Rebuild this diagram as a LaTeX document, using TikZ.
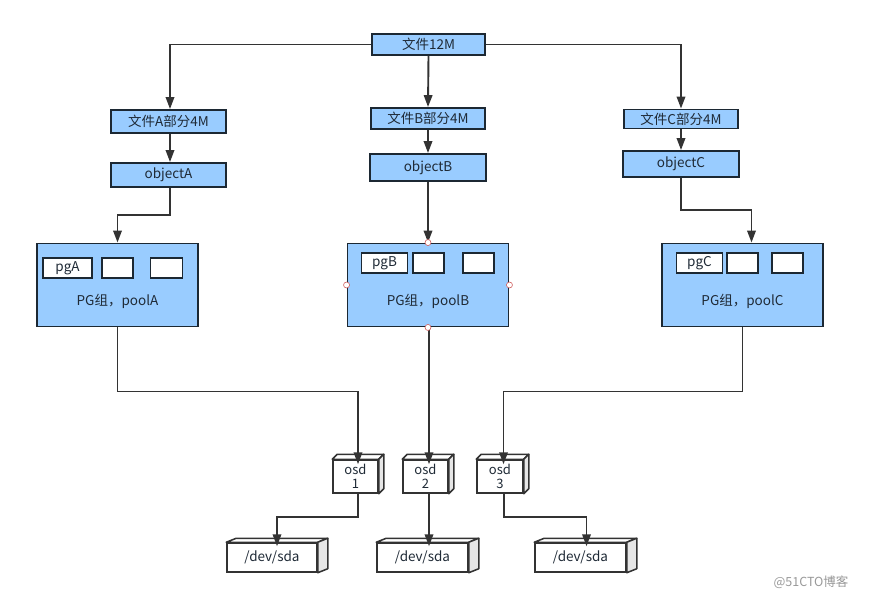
\documentclass[tikz,border=0pt]{standalone}
\usepackage{fontspec}
\setmainfont{Noto Sans CJK SC}
\usetikzlibrary{arrows.meta,calc}
\definecolor{boxfill}{HTML}{99CCFF}
\definecolor{boxline}{HTML}{1C2833}
\definecolor{linec}{HTML}{333333}
\definecolor{txtc}{HTML}{1F2A36}
\definecolor{depthc}{HTML}{E6E6E6}
\definecolor{markc}{HTML}{D06060}
\newcommand\cubefaces[3]{%
  \draw[cubeface,fill=white] (#1.north west) -- ++(#2,-#3) -- ([shift={(#2,-#3)}]#1.north east) -- (#1.north east) -- cycle;
  \draw[cubeface,fill=depthc] (#1.north east) -- ++(#2,-#3) -- ([shift={(#2,-#3)}]#1.south east) -- (#1.south east) -- cycle;}
\begin{document}
\begin{tikzpicture}[x=1pt,y=-1pt,
  every node/.style={font=\fontsize{13.5}{15}\selectfont, text=txtc},
  bluebox/.style={draw=boxline, fill=boxfill, line width=1.9pt, inner sep=0pt},
  pgbox/.style={bluebox, minimum width=161pt, minimum height=83pt},
  subbox/.style={draw=boxline, fill=white, line width=1.6pt, inner sep=0pt, minimum height=20pt},
  cubebox/.style={draw=linec, fill=white, line width=1.5pt, inner sep=0pt, align=center},
  osdbox/.style={cubebox, font=\fontsize{13}{14}\selectfont, minimum height=33pt},
  cubeface/.style={draw=linec, line width=1.5pt, line join=round},
  arr/.style={draw=linec, line width=1.9pt, -{Triangle[length=12pt,width=8.5pt]}},
  marker/.style={circle, draw=markc, fill=white, line width=0.6pt, inner sep=0pt, minimum size=6pt}]
\useasboundingbox (0,0) rectangle (871,599);
\fill[white] (0,0) rectangle (871,599);

% top
\node[bluebox, minimum width=113pt, minimum height=21pt] (top) at (428.5,44.5) {文件12M};
\node[bluebox, minimum width=115pt, minimum height=23pt] (pa) at (168.5,121.5) {文件A部分4M};
\node[bluebox, minimum width=114pt, minimum height=21pt] (pb) at (428,118.5) {文件B部分4M};
\node[bluebox, minimum width=114pt, minimum height=19pt] (pc) at (681,119) {文件C部分4M};
\node[bluebox, minimum width=115pt, minimum height=24pt] (oa) at (168.5,175) {objectA};
\node[bluebox, minimum width=116pt, minimum height=27pt] (ob) at (428,167.5) {objectB};
\node[bluebox, minimum width=116pt, minimum height=26pt] (oc) at (681,164) {objectC};

% PG groups
\node[pgbox] (pga) at (117.5,285) {};
\node[pgbox] (pgb) at (428,285) {};
\node[pgbox] (pgc) at (742.5,285) {};
\node (pgat) at (117.5,301) {PG组，poolA};
\node (pgbt) at (428,301) {PG组，poolB};
\node (pgct) at (742.5,301) {PG组，poolC};

\node[subbox, minimum width=49pt] (a1) at (67.5,268) {pgA};
\node[subbox, minimum width=31pt] (a2) at (117.5,268) {};
\node[subbox, minimum width=32pt] (a3) at (166.5,268) {};
\node[subbox, minimum width=46pt] (b1) at (384.5,263) {pgB};
\node[subbox, minimum width=31pt, line width=2pt] (b2) at (428.5,263) {};
\node[subbox, minimum width=31pt] (b3) at (478.5,263) {};
\node[subbox, minimum width=46pt] (c1) at (699.5,263) {pgC};
\node[subbox, minimum width=31pt] (c2) at (742.5,263) {};
\node[subbox, minimum width=31pt] (c3) at (787.5,263) {};

% osd cubes
\node[osdbox, minimum width=45pt] (osd1) at (355.5,476.5) {osd\\1};
\node[osdbox, minimum width=45pt] (osd2) at (425.5,476.5) {osd\\2};
\node[osdbox, minimum width=46pt] (osd3) at (500,476.5) {osd\\3};
\cubefaces{osd1}{5}{5}
\cubefaces{osd2}{5}{5}
\cubefaces{osd3}{5}{5}

% disks
\node[cubebox, minimum width=90pt, minimum height=29pt] (sda1) at (272,557.5) {/dev/sda};
\node[cubebox, minimum width=91pt, minimum height=29pt] (sda2) at (422.5,557.5) {/dev/sda};
\node[cubebox, minimum width=91pt, minimum height=29pt] (sda3) at (580.5,557.5) {/dev/sda};
\cubefaces{sda1}{10}{4}
\cubefaces{sda2}{10}{4}
\cubefaces{sda3}{10}{4}

% connectors top level
\draw[arr] (top.west) -| ([xshift=1.5pt]pa.north);
\draw[arr] (top.south) -- (pb.north);
\draw[arr] (top.east) -| (pc.north);
\draw[arr] ([xshift=1.5pt]pa.south) -- ([xshift=1.5pt]oa.north);
\draw[arr] (pb.south) -- (ob.north);
\draw[arr] (pc.south) -- (oc.north);

% object -> pg
\coordinate (ja) at ($(oa.south)+(1.5,27)$);
\draw[arr] ([xshift=1.5pt]oa.south) -- (ja) -| (pga.north);
\draw[arr] (ob.south) -- (pgb.north);
\coordinate (jc) at ($(oc.south)+(0,32.5)$);
\draw[arr] (oc.south) -- (jc) -| ([xshift=9pt]pgc.north);

% pg -> osd
\coordinate (jpa) at ($(pga.south)+(0,64)$);
\draw[arr] (pga.south) -- (jpa) -| ([xshift=2.5pt,yshift=-5pt]osd1.north);
\draw[arr] ([xshift=1pt]pgb.south) -- ([xshift=3.5pt,yshift=-5pt]osd2.north);
\coordinate (jpc) at ($(pgc.south)+(0,64)$);
\draw[arr] (pgc.south) -- (jpc) -| ([xshift=3.5pt,yshift=-5pt]osd3.north);

% osd -> disk
\coordinate (jo1) at ($(osd1.south)+(2.5,23)$);
\draw[arr] ([xshift=2.5pt]osd1.south) -- (jo1) -| ([xshift=5pt,yshift=-4pt]sda1.north);
\draw[arr] ([xshift=3.5pt]osd2.south) -- ([xshift=6.5pt,yshift=-4pt]sda2.north);
\coordinate (jo3) at ($(osd3.south)+(4,23)$);
\draw[arr] ([xshift=4pt]osd3.south) -- (jo3) -| ([xshift=6pt,yshift=-4pt]sda3.north);

% selection markers on pgB
\node[marker] (m1) at (pgb.north) {};
\node[marker] (m2) at (pgb.south) {};
\node[marker] (m3) at (pgb.west) {};
\node[marker] (m4) at (pgb.east) {};

% watermark
\node[text=gray!80, font=\fontsize{12.5}{14}\selectfont] (wm) at (811,582) {@51CTO博客};
\end{tikzpicture}
\end{document}
